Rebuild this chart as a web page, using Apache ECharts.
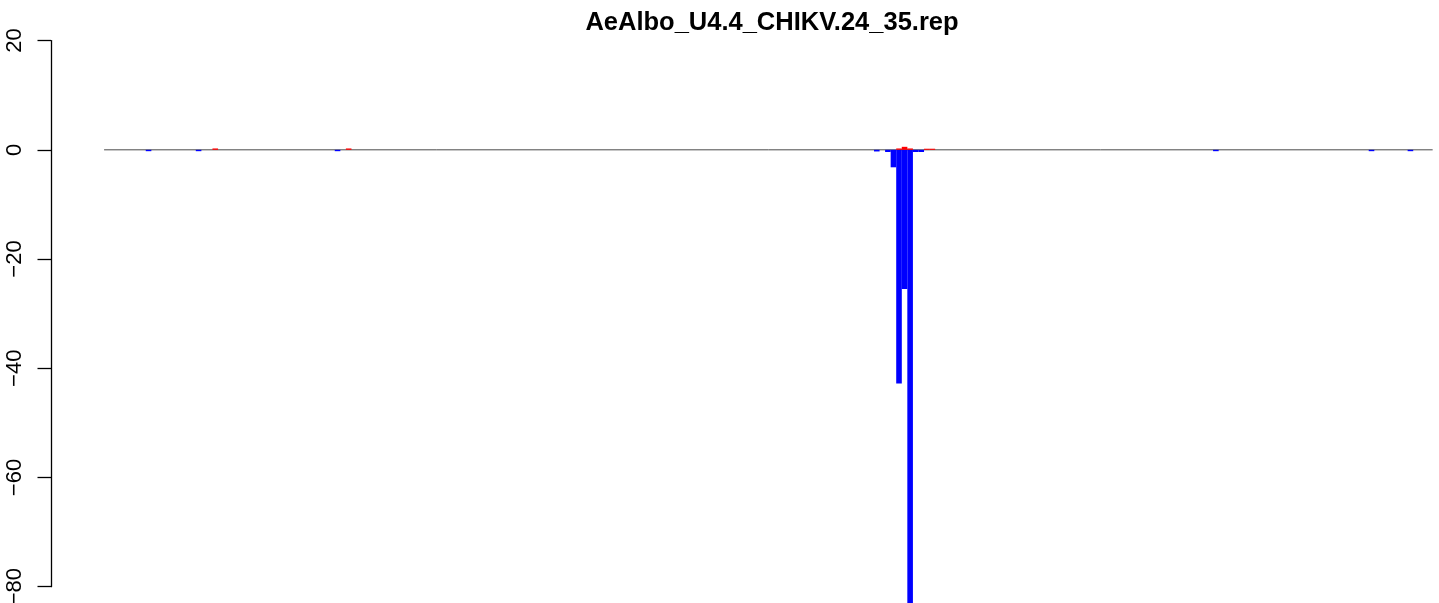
<!DOCTYPE html>
<html>
<head>
<meta charset="utf-8">
<script src="https://cdn.jsdelivr.net/npm/echarts@6/dist/echarts.min.js"></script>
<style>
html,body{margin:0;padding:0;background:#fff;}
#chart{width:1439px;height:603px;}
</style>
</head>
<body>
<div id="chart"></div>
<script>
const chartTitle = "AeAlbo_U4.4_CHIKV.24_35.rep";
const firstPosition = 1;
const lastPosition = 240;
const minusPositions = [9, 18, 43, 140, 142, 143, 144, 145, 146, 147, 148, 201, 229, 236];
const minusValues    = [-0.25, -0.25, -0.25, -0.3, -0.4, -3.2, -42.8, -25.5, -86, -0.4, -0.4, -0.25, -0.25, -0.25];
const plusPositions  = [21, 45, 144, 145, 146, 149, 150];
const plusValues     = [0.25, 0.25, 0.25, 0.55, 0.25, 0.2, 0.2];
const yTicks = [20, 0, -20, -40, -60, -80];

const chart = echarts.init(document.getElementById('chart'), null, {renderer: 'canvas'});
const pair = (xs, ys) => xs.map((x, i) => [x, ys[i]]);

chart.setOption({
  animation: false,
  backgroundColor: '#ffffff',
  title: {
    text: chartTitle,
    left: 767,
    top: 5,
    textAlign: 'center',
    textStyle: {fontFamily: 'Liberation Sans', fontWeight: 'bold', fontSize: 25.5, color: '#000'}
  },
  grid: {left: 51, right: 0, top: 40.6, bottom: 16.3, containLabel: false, outerBoundsMode: 'none'},
  xAxis: {
    type: 'value', min: -8.55, max: 241.14, show: false
  },
  yAxis: {
    type: 'value',
    min: yTicks[yTicks.length - 1],
    max: yTicks[0],
    interval: 20,
    splitLine: {show: false},
    axisLine: {show: true, onZero: false, lineStyle: {color: '#000', width: 1.3}},
    axisTick: {show: true, length: 13.5, lineStyle: {color: '#000', width: 1.3}},
    axisLabel: {
      rotate: 90,
      margin: 25,
      fontFamily: 'Liberation Sans',
      fontSize: 22,
      color: '#000',
      formatter: v => String(v).replace('-', '\u2212')
    }
  },
  series: [
    {
      type: 'line',
      data: [[firstPosition, 0], [lastPosition, 0]],
      symbol: 'none',
      lineStyle: {color: '#4a4a4a', width: 1},
      z: 1
    },
    {
      type: 'bar',
      data: pair(minusPositions, minusValues),
      barWidth: 5.6,
      barGap: '-100%',
      clip: false,
      itemStyle: {color: '#0000ff'},
      z: 3
    },
    {
      type: 'bar',
      data: pair(plusPositions, plusValues),
      barWidth: 5.6,
      barGap: '-100%',
      clip: false,
      itemStyle: {color: '#ff0000'},
      z: 3
    }
  ]
});
</script>
</body>
</html>
